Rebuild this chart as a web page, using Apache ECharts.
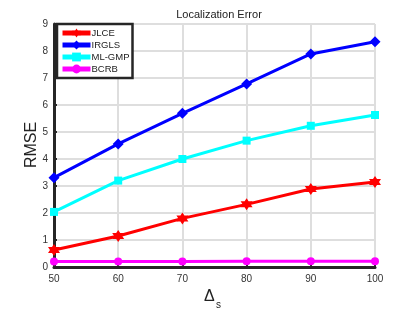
<!DOCTYPE html>
<html><head><meta charset="utf-8">
<script src="https://cdn.jsdelivr.net/npm/echarts@6/dist/echarts.min.js"></script>
<style>html,body{margin:0;padding:0;background:#fff}#c{width:415px;height:312px}</style>
</head><body><div id="c"></div>
<script>
const xValues = [50, 60, 70, 80, 90, 100];
const jlce  = [0.63, 1.15, 1.80, 2.32, 2.89, 3.15];
const irgls = [3.31, 4.56, 5.69, 6.78, 7.89, 8.34];
const mlgmp = [2.04, 3.20, 4.00, 4.68, 5.23, 5.63];
const bcrb  = [0.20, 0.20, 0.20, 0.21, 0.21, 0.21];
const seriesNames = ['JLCE', 'IRGLS', 'ML-GMP', 'BCRB'];

const hexagram = 'path://M0,-10L2.89,-5L8.66,-5L5.77,0L8.66,5L2.89,5L0,10L-2.89,5L-8.66,5L-5.77,0L-8.66,-5L-2.89,-5Z';
function pairs(arr){ return xValues.map((x,i)=>[x,arr[i]]); }
function mk(name, data, color, symbol, size){
  return {name, type:'line', data:pairs(data), symbol, symbolSize:size,
    lineStyle:{color, width:3}, itemStyle:{color}, z: 3, animation:false};
}
const chart = echarts.init(document.getElementById('c'), null, {renderer:'canvas'});
chart.setOption({
  animation:false,
  title:{text:'Localization Error', left:214, top:4, textAlign:'center',
    textStyle:{fontFamily:'Liberation Sans, Arial', fontSize:11, fontWeight:'normal', color:'#222'}},
  grid:{left:54, right:40, top:24, bottom:45},
  legend:{orient:'vertical', left:57, top:24, data:seriesNames,
    borderColor:'#262626', borderWidth:2.5, backgroundColor:'#fff', borderRadius:0,
    padding:[4,3,4,3], itemWidth:28, itemHeight:11, itemGap:2,
    lineStyle:{width:5},
    textStyle:{fontFamily:'Liberation Sans, Arial', fontSize:9.5, color:'#222', padding:[0,0,0,-4]}},
  xAxis:{type:'value', min:50, max:100, interval:10,
    axisLine:{lineStyle:{color:'#262626', width:3}},
    axisTick:{inside:true, length:3, lineStyle:{color:'#262626', width:2}},
    axisLabel:{fontFamily:'Liberation Sans, Arial', fontSize:10, color:'#333', margin:7},
    splitLine:{show:true, lineStyle:{color:'#dedede', width:2}}},
  yAxis:{type:'value', min:0, max:9, interval:1,
    axisLine:{show:true, lineStyle:{color:'#262626', width:3}},
    axisTick:{show:true, inside:true, length:3, lineStyle:{color:'#262626', width:2}},
    axisLabel:{fontFamily:'Liberation Sans, Arial', fontSize:10, color:'#333', margin:6},
    splitLine:{show:true, lineStyle:{color:'#dedede', width:2}}},
  graphic:[
    {type:'text', x:32, y:145, rotation:Math.PI/2,
      style:{text:'RMSE', font:'16px Liberation Sans, Arial', fill:'#222', align:'center', verticalAlign:'middle'}},
    {type:'text', left:204, top:289, style:{text:'Δ', font:'16px Liberation Sans, Arial', fill:'#222'}},
    {type:'text', left:216, top:300, style:{text:'s', font:'10px Liberation Sans, Arial', fill:'#222'}}
  ],
  series:[
    mk('JLCE', jlce, '#ff0000', hexagram, 12),
    mk('IRGLS', irgls, '#0000ff', 'diamond', 11),
    mk('ML-GMP', mlgmp, '#00ffff', 'rect', 8),
    mk('BCRB', bcrb, '#ff00ff', 'circle', 8)
  ]
});
</script></body></html>
